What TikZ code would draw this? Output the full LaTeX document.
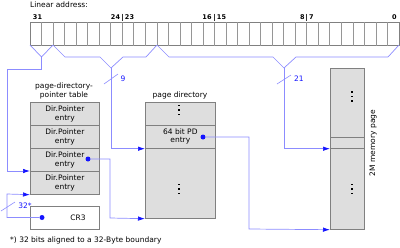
\documentclass[tikz,border=0pt]{standalone}
\usepackage{fontspec}
\setmainfont{DejaVu Sans}
\usetikzlibrary{arrows.meta,calc}
\definecolor{lineblue}{RGB}{140,140,255}
\definecolor{tipblue}{RGB}{20,20,255}
\definecolor{boxfill}{RGB}{222,222,222}
\definecolor{boxline}{RGB}{128,128,128}
\definecolor{bitline}{RGB}{150,150,150}
\begin{document}
\begin{tikzpicture}[x=1pt,y=-1pt,
  txt/.style={font=\fontsize{7.5}{9}\selectfont, inner sep=0pt, align=center},
  bitnum/.style={font=\fontsize{6.5}{7}\selectfont\bfseries, inner sep=0pt},
  tbl/.style={draw=boxline, fill=boxfill, line width=0.7pt, inner sep=0pt, anchor=north west,
    font=\fontsize{7.5}{9}\selectfont, align=center},
  bline/.style={draw=lineblue, line width=0.7pt},
  arr/.style={draw=lineblue, line width=0.7pt, -{Latex[length=7pt,width=4.5pt,color=tipblue]}},
  bdot/.style={circle, fill=tipblue, inner sep=0pt, minimum size=5pt},
  tick/.style={draw=lineblue, line width=0.6pt},
  lbl/.style={font=\fontsize{7.5}{9}\selectfont, text=tipblue, inner sep=0pt}
]
\useasboundingbox (0,0) rectangle (400,247);

% Linear address
\node[txt, anchor=west] (la) at (30,5) {Linear address:};
\node[draw=boxline, fill=white, line width=0.7pt, inner sep=0pt, anchor=north west,
  minimum width=369pt, minimum height=23pt] (bits) at (30,22) {};
\foreach \i in {1,...,31} {
  \draw[bitline, line width=0.6pt] ($(bits.north west)+(\i*11.53,0)$) -- ($(bits.south west)+(\i*11.53,0)$);
}
\node[bitnum] (b31) at (37.5,17.5) {31};
\node[bitnum] (b24) at (115.5,17.5) {24};
\node[bitnum] (b23) at (129.5,17.5) {23};
\node[bitnum] (b16) at (207,17.5) {16};
\node[bitnum] (b15) at (221.5,17.5) {15};
\node[bitnum] (b8) at (302.5,17.5) {8};
\node[bitnum] (b7) at (311.5,17.5) {7};
\node[bitnum] (b0) at (394.5,17.5) {0};
\foreach \x in {122.25,214.5,306.75} {\draw[black!80, line width=0.6pt] (\x,13.5) -- (\x,20.5);}

% braces
\coordinate (v1) at (41.5,57);
\coordinate (v2) at (111,68);
\coordinate (v3) at (284,68);
\draw[bline] (30,45) -- (v1) -- (53,45);
\draw[bline] (53,45) -- (65,57) -- (100,57) -- (v2) -- (123,57) -- (146,57) -- (157,45);
\draw[bline] (157,45) -- (169,57) -- (273,57) -- (v3) -- (296,57) -- (388,57) -- (399,45);

% page-directory-pointer table
\node[txt] (pdptl) at (64,91) {page-directory-\\pointer table};
\node[tbl, minimum width=69pt, minimum height=23pt] (e1) at (30,102) {Dir.Pointer\\entry};
\node[tbl, minimum width=69pt, minimum height=23pt] (e2) at (30,125) {Dir.Pointer\\entry};
\node[tbl, minimum width=69pt, minimum height=23pt] (e3) at (30,148) {Dir.Pointer\\entry};
\node[tbl, minimum width=69pt, minimum height=23pt] (e4) at (30,171) {Dir.Pointer\\entry};

% CR3
\node[draw=boxline, fill=white, line width=0.7pt, inner sep=0pt, anchor=north west,
  minimum width=69pt, minimum height=23pt] (cr3) at (30,206) {};
\node[txt] (cr3t) at (78,218) {CR3};
\node[bdot] (d0) at (42,217.5) {};

% page directory
\node[txt] (pdl) at (180,95) {page directory};
\node[tbl, minimum width=70pt, minimum height=116pt] (pd) at (145,102) {};
\node[tbl, minimum width=70pt, minimum height=23pt] (pde) at (145,125) {64 bit PD\\[-1pt]entry};
\node[bdot] (d2) at (203,137) {};
\node[bdot] (d1) at (88,159) {};

% memory page
\node[tbl, minimum width=34pt, minimum height=161pt] (mem) at (330,68) {};
\node[draw=boxline, line width=0.7pt, inner sep=0pt, anchor=north west,
  minimum width=34pt, minimum height=11pt] (band) at (330,137) {};
\node[txt, rotate=90] (meml) at (373,143) {2M memory page};

% vertical ellipses
\foreach \x/\y in {179/110, 179/189, 352/96.5, 352/189} {
  \foreach \d in {-4.5,0,4.5} {\fill[black] (\x-0.9,\y+\d-0.9) rectangle (\x+0.9,\y+\d+0.9);}
}

% connectors
\draw[bline] (v1) -- (41.5,69) -- (7,69) -- (7,171);
\draw[arr] (7,171) -- (e4.north west);
\draw[arr] (v2) |- (pde.south west);
\draw[arr] (v3) |- (band.south west);
\draw[arr] (d0) -- (7,217.5) -- (7,194) -- (e4.south west);
\draw[arr] (d1) -- (110,159) -- (110,218) -- (pd.south west);
\draw[arr] (d2) -- (249,137) -- (249,229) -- (mem.south west);

% ticks and labels
\draw[tick] (104,84) -- (118,74);
\node[lbl] (l9) at (123,79) {9};
\draw[tick] (277,84) -- (291,75);
\node[lbl] (l21) at (299,79) {21};
\draw[tick] (1,211) -- (15,202);
\node[lbl] (l32) at (25,206) {32*};

% footnote
\node[txt, anchor=west] (fn) at (10,240) {*) 32 bits aligned to a 32-Byte boundary};
\end{tikzpicture}
\end{document}
